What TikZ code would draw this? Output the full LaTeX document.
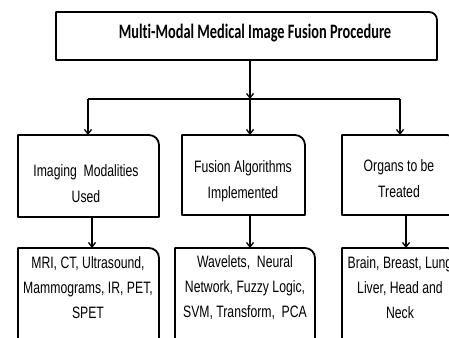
\documentclass[tikz,border=0pt]{standalone}
\usepackage{fontspec}
\newfontfamily\boxfont[FakeStretch=0.74]{Liberation Sans}
\newfontfamily\titlefont[FakeStretch=0.70,Ligatures=CommonOff]{Carlito}
\usetikzlibrary{arrows.meta}

% frame with a single rounded corner (top right)
\newcommand\cornerframe[2]{%
  \draw[frame] (#1.south west) -- (#1.north west)
    -- ([xshift=-#2]#1.north east) arc[start angle=90,end angle=0,radius=#2]
    -- (#1.south east) -- cycle;}

\tikzset{
  frame/.style={line width=1.8pt, line join=round},
  shell/.style={inner sep=0pt, outer sep=0pt},
  label text/.style={align=center, inner sep=0pt,
    font=\boxfont\fontsize{16.5}{26.5}\selectfont},
  title text/.style={inner sep=0pt, font=\titlefont\bfseries\fontsize{20.5}{24}\selectfont},
  link/.style={line width=1.3pt},
  flow/.style={link, -{Straight Barb[length=4.5pt,width=7pt,line width=1.3pt]}},
}

\begin{document}
\begin{tikzpicture}[x=1pt,y=-1pt]
\useasboundingbox (0,0) rectangle (449,337);

% top box
\node[shell, minimum width=381pt, minimum height=48pt] (top) at (246.5,36) {};
\cornerframe{top}{8pt}
\node[title text] (toptxt) at (255,33) {Multi-Modal Medical Image Fusion Procedure};

% second row
\node[shell, minimum width=141pt, minimum height=82pt] (m1) at (88.5,176) {};
\node[shell, minimum width=123pt, minimum height=80pt] (m2) at (243.5,175) {};
\node[shell, minimum width=115pt, minimum height=80pt] (m3) at (399.5,175) {};
\cornerframe{m1}{10pt}
\cornerframe{m2}{10pt}
\cornerframe{m3}{10pt}
\node[label text] (m1txt) at (86,183.5) {Imaging\ \ Modalities\\Used};
\node[label text] (m2txt) at (243,181) {Fusion Algorithms\\Implemented};
\node[label text] (m3txt) at (399,178.5) {Organs\ to be\\Treated};

% third row (runs past the lower edge)
\node[shell, minimum width=141pt, minimum height=110pt] (b1) at (88.5,303) {};
\node[shell, minimum width=140pt, minimum height=110pt] (b2) at (245,303) {};
\node[shell, minimum width=115pt, minimum height=110pt] (b3) at (399.5,303) {};
\cornerframe{b1}{10pt}
\cornerframe{b2}{10pt}
\cornerframe{b3}{10pt}
\node[label text, font=\boxfont\fontsize{16.5}{25}\selectfont] (b1txt) at (88,288)
  {MRI,\ CT,\ Ultrasound,\\Mammograms,\ IR,\ PET,\\SPET};
\node[label text, font=\boxfont\fontsize{16.5}{25}\selectfont] (b2txt) at (245,288)
  {Wavelets,\ \ Neural\\Network,\ Fuzzy Logic,\\SVM, Transform,\ \ PCA};
\node[label text, font=\boxfont\fontsize{16.5}{25}\selectfont] (b3txt) at (400,288)
  {Brain, Breast, Lung\\Liver,\ Head and\\Neck};

% connectors
\coordinate (j) at (250,99);
\coordinate (jl) at (88,99);
\coordinate (jr) at (400,99);
\draw[flow] (top.south -| j) -- (j);
\draw[link] (jl) -- (jr);
\draw[flow] (jl) -- (jl |- m1.north);
\draw[flow] (j) -- (j |- m2.north);
\draw[flow] (jr) -- (jr |- m3.north);

\coordinate (k1) at (92,0);
\coordinate (k2) at (250,0);
\coordinate (k3) at (406,0);
\draw[flow] (m1.south -| k1) -- (b1.north -| k1);
\draw[flow] (m2.south -| k2) -- (b2.north -| k2);
\draw[flow] (m3.south -| k3) -- (b3.north -| k3);
\end{tikzpicture}
\end{document}
